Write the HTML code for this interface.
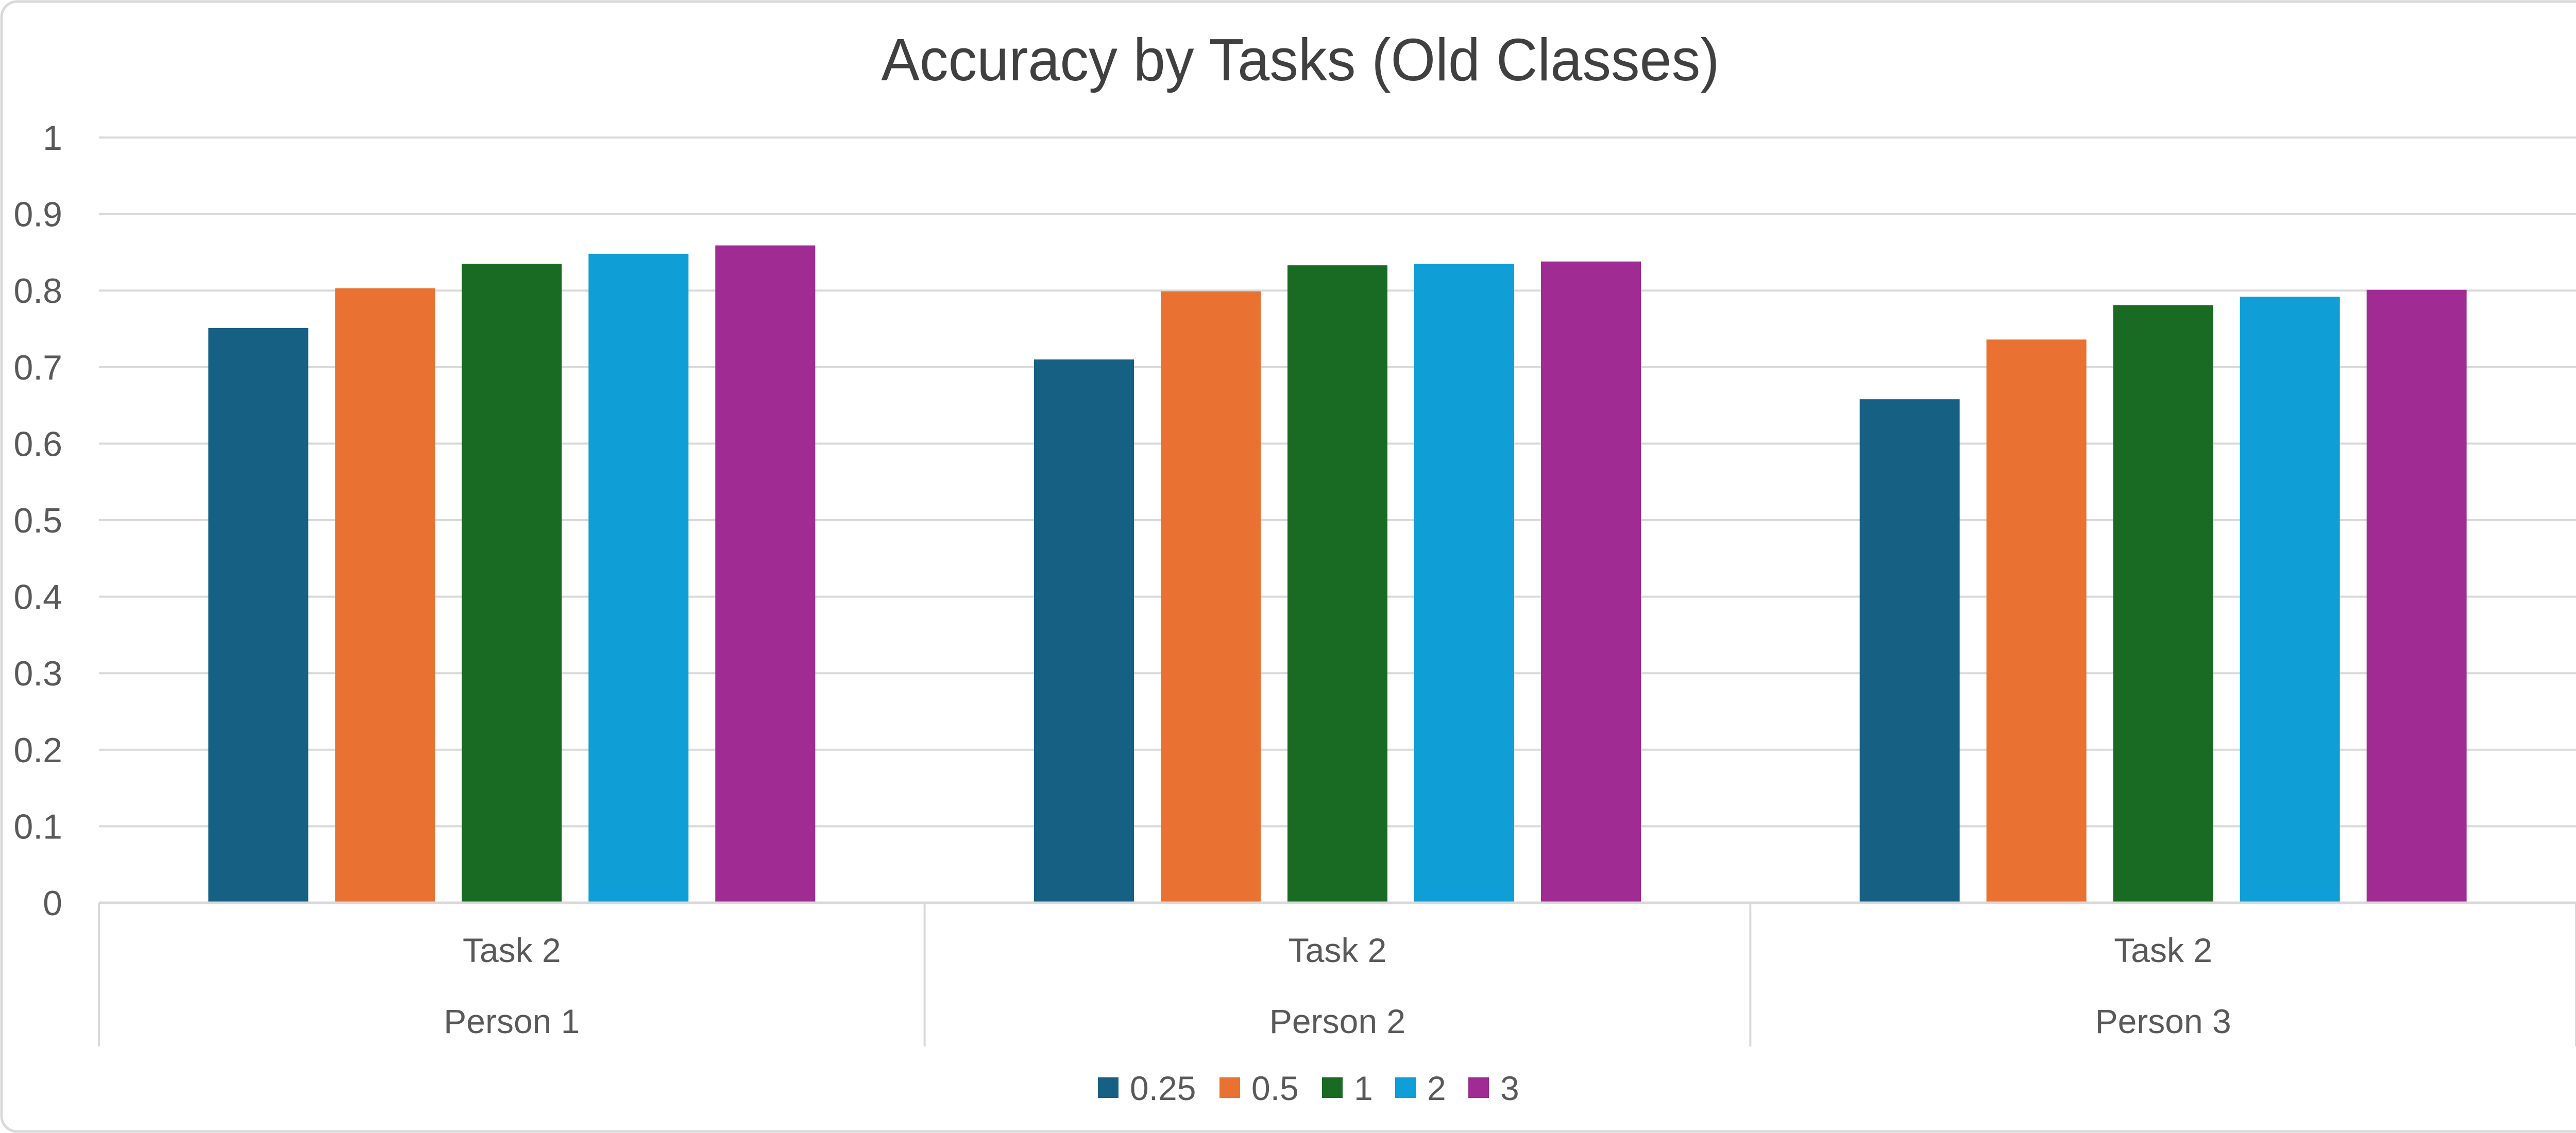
<!DOCTYPE html>
<html><head><meta charset="utf-8"><style>
html,body{margin:0;padding:0;background:#fff;}
svg{display:block;font-family:"Liberation Sans",sans-serif;}
</style></head><body>
<svg id="chart" width="5052" height="2200" viewBox="0 0 5052 2200" xmlns="http://www.w3.org/2000/svg">
<rect x="3" y="3" width="5046" height="2194" rx="30" fill="#fff" stroke="#d9d9d9" stroke-width="5"/>
<text x="2524" y="156" text-anchor="middle" font-size="116" fill="#404040" textLength="1627" lengthAdjust="spacingAndGlyphs">Accuracy by Tasks (Old Classes)</text>
<g id="grid"></g><g id="bars"></g><g id="xaxis"></g><g id="legend"></g>
</svg>
<script>
const categories = ["Person 1","Person 2","Person 3"];
const subLabels = ["Task 2","Task 2","Task 2"];
const seriesNames = ["0.25","0.5","1","2","3"];
const s025 = [0.751,0.710,0.658];
const s05 = [0.803,0.799,0.736];
const s1 = [0.835,0.833,0.781];
const s2 = [0.848,0.835,0.792];
const s3 = [0.859,0.838,0.801];
const yTicks = [0,0.1,0.2,0.3,0.4,0.5,0.6,0.7,0.8,0.9,1];
const yTickLabels = ["0","0.1","0.2","0.3","0.4","0.5","0.6","0.7","0.8","0.9","1"];

const series = [s025,s05,s1,s2,s3];
const colors = ["#166083","#e97132","#196b24","#0f9ed5","#a02b93"];
const NS = "http://www.w3.org/2000/svg";
const L = 192, R = 5000, Y0 = 1753, Y1 = 267;
const y = v => Y0 - (Y0 - Y1) * v;
const catW = (R - L) / categories.length;
const x = i => L + catW * (i + 0.5);
function mk(tag, attrs, parent){const e=document.createElementNS(NS,tag);for(const k in attrs)e.setAttribute(k,attrs[k]);parent.appendChild(e);return e;}
const grid=document.getElementById('grid'), bars=document.getElementById('bars'), xa=document.getElementById('xaxis'), lg=document.getElementById('legend');
yTicks.forEach((t,i)=>{
  if(i>0){const g=mk('line',{x1:L,x2:R,y1:y(t),y2:y(t),stroke:'#d9d9d9','stroke-width':4},grid);
  
  }
  const tx=mk('text',{x:121,y:y(t)+24,'text-anchor':'end','font-size':68,fill:'#595959'},grid);
  tx.textContent=yTickLabels[i];
  
  
});
const barW=194, step=246;
categories.forEach((c,ci)=>{
  series.forEach((s,si)=>{
    const cx=x(ci)+(si-2)*step;
    const b=mk('rect',{x:cx-barW/2,y:y(s[ci]),width:barW,height:Y0-y(s[ci]),fill:colors[si]},bars);
    
    
  });
  const t1=mk('text',{x:x(ci),y:1868,'text-anchor':'middle','font-size':66,fill:'#595959'},xa);
  t1.textContent=subLabels[ci];
  
  
  const t2=mk('text',{x:x(ci),y:2006,'text-anchor':'middle','font-size':66,fill:'#595959'},xa);
  t2.textContent=c;
  
  
});
const ax=mk('line',{x1:L,x2:R,y1:Y0,y2:Y0,stroke:'#d9d9d9','stroke-width':5},xa);


for(let i=0;i<=categories.length;i++){
  const v=mk('line',{x1:L+catW*i,x2:L+catW*i,y1:Y0,y2:2032,stroke:'#d9d9d9','stroke-width':4},xa);
  
  
}
const lx=[2131,2367,2566,2708,2850];
seriesNames.forEach((n,i)=>{
  const g=mk('g',{},lg);
  
  
  mk('rect',{x:lx[i],y:2092,width:40,height:40,fill:colors[i]},g);
  const t=mk('text',{x:lx[i]+62,y:2136,'font-size':66,fill:'#595959'},g);
  t.textContent=n;
});
</script>
</body></html>
